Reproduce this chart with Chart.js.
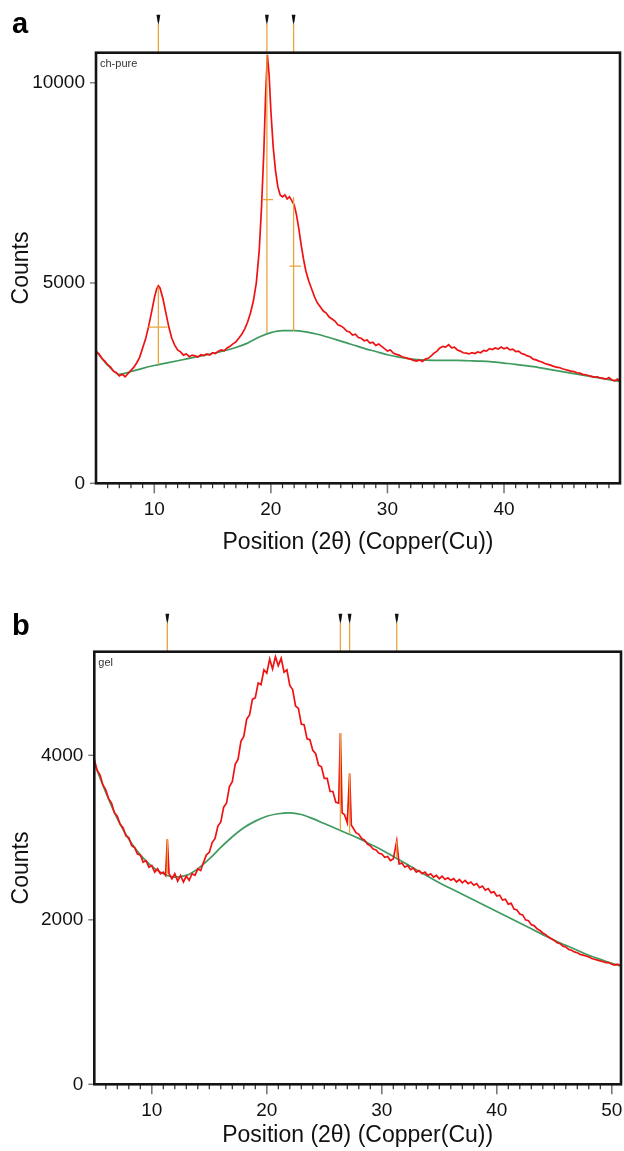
<!DOCTYPE html>
<html><head><meta charset="utf-8">
<script src="https://cdn.jsdelivr.net/npm/chart.js@4.4.1/dist/chart.umd.min.js"></script>
<style>
html,body{margin:0;padding:0;background:#fff;overflow:hidden;width:624px;height:1151px;}
canvas{position:absolute;left:0;display:block;}
#ca{top:0}
#cb{top:575px}
</style></head><body>
<canvas id="ca" width="624" height="575"></canvas>
<canvas id="cb" width="624" height="576"></canvas>
<script>
const FONT = "'Liberation Sans', Arial, Helvetica, sans-serif";
const RED = '#f01212', GREEN = '#3f9a60', ORANGE = '#e9a43c';

// ---------- Panel a (ch-pure) ----------
const xA = [
 5,5.25,5.5,5.75,6,6.25,6.5,6.75,7,7.25,
 7.5,7.75,8,8.25,8.5,8.75,9,9.25,9.5,9.75,
 10,10.2,10.35,10.5,10.75,11,11.25,11.5,11.75,12,
 12.25,12.5,12.75,13,13.25,13.5,13.75,14,14.25,14.5,
 14.75,15,15.25,15.5,15.75,16,16.25,16.5,16.75,17,
 17.25,17.5,17.75,18,18.25,18.5,18.75,19,19.2,19.4,
 19.55,19.7,19.85,20,20.2,20.4,20.6,20.8,21,21.2,
 21.4,21.6,21.8,22,22.2,22.4,22.6,22.8,23,23.25,
 23.5,23.75,24,24.25,24.5,24.75,25,25.25,25.5,25.75,
 26,26.25,26.5,26.75,27,27.25,27.5,27.75,28,28.25,
 28.5,28.75,29,29.25,29.5,29.75,30,30.25,30.5,30.75,
 31,31.25,31.5,31.75,32,32.25,32.5,32.75,33,33.25,
 33.5,33.75,34,34.25,34.5,34.75,35,35.25,35.5,35.75,
 36,36.25,36.5,36.75,37,37.25,37.5,37.75,38,38.25,
 38.5,38.75,39,39.25,39.5,39.75,40,40.25,40.5,40.75,
 41,41.25,41.5,41.75,42,42.25,42.5,42.75,43,43.25,
 43.5,43.75,44,44.25,44.5,44.75,45,45.25,45.5,45.75,
 46,46.25,46.5,46.75,47,47.25,47.5,47.75,48,48.25,
 48.5,48.75,49,49.25,49.5,49.75,50
];
const yA = [
 3290,3230,3120,3050,2960,2900,2800,2760,2680,2720,
 2660,2740,2820,2900,3010,3150,3380,3600,3900,4250,
 4620,4850,4930,4870,4600,4250,3900,3620,3450,3330,
 3280,3200,3230,3160,3200,3180,3150,3210,3190,3230,
 3200,3260,3240,3300,3330,3310,3380,3420,3480,3530,
 3620,3720,3850,4020,4250,4550,5000,5800,6900,8300,
 9700,10700,10200,9300,8400,7800,7400,7200,7150,7200,
 7100,7150,7050,6950,6700,6350,5950,5600,5300,5050,
 4850,4650,4500,4400,4300,4250,4150,4100,4050,3960,
 3930,3880,3800,3780,3700,3720,3640,3620,3560,3580,
 3500,3520,3440,3480,3420,3360,3300,3330,3250,3220,
 3200,3160,3140,3120,3100,3070,3050,3080,3040,3100,
 3120,3180,3250,3300,3380,3420,3400,3460,3380,3400,
 3330,3300,3260,3250,3230,3260,3240,3280,3260,3320,
 3300,3360,3340,3380,3350,3400,3360,3390,3330,3350,
 3290,3300,3240,3220,3180,3160,3100,3080,3050,3030,
 2990,2970,2950,2920,2900,2890,2860,2840,2820,2800,
 2790,2760,2750,2720,2710,2690,2670,2650,2660,2630,
 2620,2600,2640,2580,2560,2600,2530
];
const baseXA = [5,6,7,8,9,10,11,12,13,14,15,16,17,18,19,20,21,22,23,24,25,26,27,28,29,30,31,32,33,34,35,36,37,38,39,40,41,42,43,44,45,46,47,48,49,50];
const baseYA = [3300,2950,2720,2790,2870,2940,3000,3060,3120,3180,3240,3310,3390,3500,3650,3760,3810,3810,3780,3720,3640,3550,3460,3370,3290,3210,3150,3100,3080,3070,3070,3070,3060,3050,3030,3000,2970,2930,2890,2840,2790,2740,2690,2640,2590,2540];
const peakPosA = [10.35, 19.66, 21.95];
const peakTopA = [4900, 10700, 7150];
const peakBaseA = [2960, 3750, 3800];
const fwhmLoA = [9.49, 19.26, 21.6];
const fwhmHiA = [11.12, 20.2, 22.6];
const fwhmYA = [3900, 7080, 5420];
const xTicksA = [10, 20, 30, 40];
const yTicksA = [0, 5000, 10000];

// ---------- Panel b (gel) ----------
const xB = [
 5,5.25,5.5,5.75,6,6.25,6.5,6.75,7,7.25,
 7.5,7.75,8,8.25,8.5,8.75,9,9.25,9.5,9.75,
 10,10.25,10.5,10.75,11,11.2,11.35,11.5,11.75,12,
 12.25,12.5,12.75,13,13.25,13.5,13.75,14,14.25,14.5,
 14.75,15,15.25,15.5,15.75,16,16.25,16.5,16.75,17,
 17.25,17.5,17.75,18,18.25,18.5,18.75,19,19.25,19.5,
 19.75,20,20.25,20.5,20.75,21,21.25,21.5,21.75,22,
 22.25,22.5,22.75,23,23.25,23.5,23.75,24,24.25,24.5,
 24.75,25,25.25,25.5,25.75,26,26.25,26.4,26.55,26.75,
 27,27.2,27.35,27.5,27.75,28,28.25,28.5,28.75,29,
 29.25,29.5,29.75,30,30.25,30.5,30.75,31,31.3,31.5,
 31.75,32,32.25,32.5,32.75,33,33.25,33.5,33.75,34,
 34.25,34.5,34.75,35,35.25,35.5,35.75,36,36.25,36.5,
 36.75,37,37.25,37.5,37.75,38,38.25,38.5,38.75,39,
 39.25,39.5,39.75,40,40.25,40.5,40.75,41,41.25,41.5,
 41.75,42,42.25,42.5,42.75,43,43.25,43.5,43.75,44,
 44.25,44.5,44.75,45,45.25,45.5,45.75,46,46.25,46.5,
 46.75,47,47.25,47.5,47.75,48,48.25,48.5,48.75,49,
 49.25,49.5,49.75,50,50.25,50.5,50.8
];
const yB = [
 3950,3820,3760,3640,3580,3470,3420,3300,3260,3160,
 3120,3020,3000,2900,2880,2800,2790,2700,2720,2640,
 2660,2580,2620,2560,2580,2540,2980,2560,2500,2560,
 2470,2540,2460,2530,2480,2560,2540,2620,2600,2700,
 2790,2820,2940,2990,3140,3190,3370,3420,3620,3680,
 3890,3950,4170,4230,4440,4490,4680,4700,4880,4860,
 5040,5000,5170,5050,5200,5090,5180,5010,5040,4850,
 4800,4600,4570,4380,4370,4200,4190,4060,4020,3880,
 3860,3720,3720,3560,3560,3430,3420,4270,3300,3280,
 3180,3780,3150,3120,3060,3040,2990,2970,2920,2900,
 2860,2850,2810,2800,2760,2770,2720,2740,2960,2680,
 2690,2640,2660,2610,2630,2580,2600,2560,2580,2540,
 2560,2520,2540,2500,2530,2490,2510,2480,2500,2460,
 2490,2450,2480,2440,2460,2420,2440,2390,2410,2360,
 2380,2330,2340,2290,2300,2240,2250,2190,2200,2130,
 2120,2070,2060,2000,1990,1940,1930,1890,1870,1840,
 1820,1790,1770,1750,1720,1710,1680,1670,1640,1630,
 1610,1600,1580,1570,1560,1550,1530,1520,1510,1500,
 1490,1480,1480,1460,1450,1460,1440
];
const baseXB = [5,6,7,8,9,10,11,12,13,14,15,16,17,18,19,20,21,22,23,24,25,26,27,28,29,30,31,32,33,34,35,36,37,38,39,40,41,42,43,44,45,46,47,48,49,50,50.8];
const baseYB = [3900,3550,3230,2980,2790,2650,2560,2520,2540,2620,2740,2880,3010,3120,3200,3260,3290,3300,3280,3230,3170,3110,3050,2990,2920,2850,2770,2690,2610,2530,2450,2380,2310,2240,2170,2100,2030,1960,1890,1820,1750,1690,1630,1570,1520,1470,1440];
const peakPosB = [11.35, 26.4, 27.2, 31.3];
const peakTopB = [2980, 4270, 3780, 2960];
const peakBaseB = [2560, 3090, 3040, 2760];
const xTicksB = [10, 20, 30, 40, 50];
const yTicksB = [0, 2000, 4000];

function overlayPlugin(o) {
  return {
    id: 'overlay',
    afterDraw(chart) {
      const { ctx, chartArea: ca, scales } = chart;
      const xs = scales.x;
      ctx.save();
      // x tick marks
      for (let v = Math.floor(xs.min) + 1; v < xs.max; v++) {
        const px = xs.getPixelForValue(v);
        const major = v % 10 === 0;
        ctx.strokeStyle = major ? '#7a7a7a' : '#2a2a2a';
        ctx.lineWidth = major ? 1.6 : 1.2;
        ctx.beginPath();
        ctx.moveTo(px, ca.bottom);
        ctx.lineTo(px, ca.bottom + (major ? 10 : 5));
        ctx.stroke();
      }
      // y tick marks
      o.yTicks.forEach(v => {
        const py = scales.y.getPixelForValue(v);
        ctx.strokeStyle = '#7a7a7a'; ctx.lineWidth = 1.4;
        ctx.beginPath(); ctx.moveTo(ca.left - 6, py); ctx.lineTo(ca.left, py); ctx.stroke();
      });
      // peak markers above the frame
      o.peaks.forEach(p => {
        const px = xs.getPixelForValue(p);
        ctx.strokeStyle = ORANGE; ctx.lineWidth = 1.3;
        ctx.beginPath(); ctx.moveTo(px, ca.top - 29); ctx.lineTo(px, ca.top); ctx.stroke();
        ctx.fillStyle = '#111';
        ctx.beginPath();
        ctx.moveTo(px - 1.9, ca.top - 38);
        ctx.lineTo(px + 1.9, ca.top - 38);
        ctx.lineTo(px + 1.0, ca.top - 32);
        ctx.lineTo(px, ca.top - 28);
        ctx.lineTo(px - 1.0, ca.top - 32);
        ctx.closePath(); ctx.fill();
      });
      // frame
      ctx.strokeStyle = '#141414'; ctx.lineWidth = 2.6;
      ctx.strokeRect(ca.left, ca.top, ca.right - ca.left, ca.bottom - ca.top);
      // sample name
      ctx.fillStyle = '#333'; ctx.font = '11px ' + FONT;
      ctx.textAlign = 'left'; ctx.textBaseline = 'middle';
      ctx.fillText(o.sample, ca.left + 4, ca.top + 11);
      // panel letter
      ctx.fillStyle = '#000'; ctx.font = 'bold 29px ' + FONT;
      ctx.textBaseline = 'alphabetic';
      ctx.fillText(o.letter, 12, o.letterY);
      ctx.restore();
    }
  };
}

function makeChart(id, o) {
  const datasets = [];
  o.peaks.forEach((p, i) => datasets.push({
    data: [{ x: p, y: o.tops[i] }, { x: p, y: o.bases[i] }],
    borderColor: ORANGE, borderWidth: 1.3, pointRadius: 0
  }));
  (o.fwhmLo || []).forEach((lo, i) => datasets.push({
    data: [{ x: lo, y: o.fwhmY[i] }, { x: o.fwhmHi[i], y: o.fwhmY[i] }],
    borderColor: ORANGE, borderWidth: 1.3, pointRadius: 0
  }));
  datasets.push({
    data: o.x.map((v, i) => ({ x: v, y: o.y[i] })),
    borderColor: RED, borderWidth: 1.7, pointRadius: 0
  });
  datasets.push({
    data: o.bx.map((v, i) => ({ x: v, y: o.by[i] })),
    borderColor: GREEN, borderWidth: 1.7, pointRadius: 0, cubicInterpolationMode: 'monotone'
  });
  new Chart(document.getElementById(id), {
    type: 'line',
    data: { datasets },
    options: {
      responsive: false, animation: false, events: [],
      layout: { padding: { left: 0, right: o.padR, top: o.padT, bottom: 0 } },
      plugins: { legend: { display: false }, tooltip: { enabled: false } },
      scales: {
        x: {
          type: 'linear', min: 5, max: o.xmax,
          afterBuildTicks: s => { s.ticks = o.xTicks.map(v => ({ value: v })); },
          afterFit: s => { s.height = o.xH; s.paddingLeft = 0; s.paddingRight = 0; },
          grid: { display: false, drawTicks: false }, border: { display: false },
          ticks: { padding: o.xPad, autoSkip: false, maxRotation: 0, color: '#111',
                   font: { family: FONT, size: 19 }, callback: v => String(v) },
          title: { display: true, text: 'Position (2θ) (Copper(Cu))', color: '#111',
                   font: { family: FONT, size: 23 }, padding: { top: 0, bottom: o.xTitlePad } }
        },
        y: {
          type: 'linear', min: 0, max: o.ymax,
          afterBuildTicks: s => { s.ticks = o.yTicks.map(v => ({ value: v })); },
          afterFit: s => { s.width = o.yW; s.paddingTop = 0; s.paddingBottom = 0; },
          grid: { display: false, drawTicks: false }, border: { display: false },
          ticks: { padding: 11, color: '#111', font: { family: FONT, size: 19 }, callback: v => String(v) },
          title: { display: true, text: 'Counts', color: '#111',
                   font: { family: FONT, size: 23 }, padding: { top: 8, bottom: 0 } }
        }
      }
    },
    plugins: [overlayPlugin(o)]
  });
}

makeChart('ca', {
  x: xA, y: yA, bx: baseXA, by: baseYA,
  peaks: peakPosA, tops: peakTopA, bases: peakBaseA,
  fwhmLo: fwhmLoA, fwhmHi: fwhmHiA, fwhmY: fwhmYA,
  xTicks: xTicksA, yTicks: yTicksA, xmax: 49.95, ymax: 10750,
  padT: 52.7, padR: 4, yW: 96, xH: 91.7, xPad: 15, xTitlePad: 19,
  sample: 'ch-pure', letter: 'a', letterY: 33
});
makeChart('cb', {
  x: xB, y: yB, bx: baseXB, by: baseYB,
  peaks: peakPosB, tops: peakTopB, bases: peakBaseB,
  xTicks: xTicksB, yTicks: yTicksB, xmax: 50.8, ymax: 5260,
  padT: 76.7, padR: 3, yW: 94.3, xH: 66.7, xPad: 15, xTitlePad: 2,
  sample: 'gel', letter: 'b', letterY: 60
});
</script>
</body></html>
